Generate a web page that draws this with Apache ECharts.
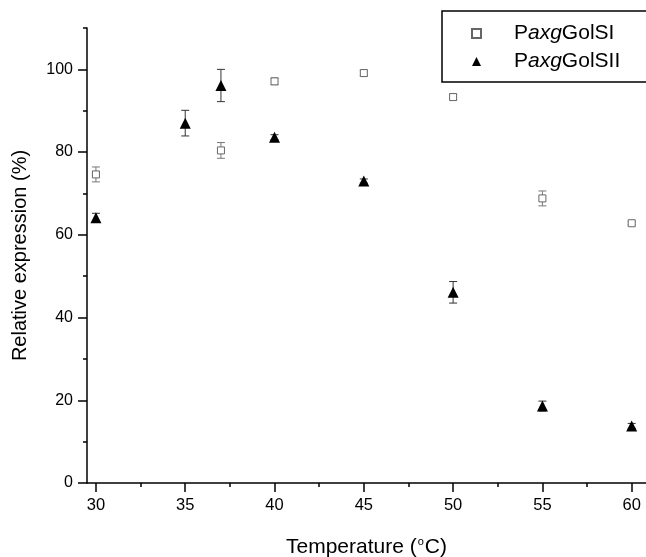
<!DOCTYPE html>
<html>
<head>
<meta charset="utf-8">
<script src="https://cdn.jsdelivr.net/npm/echarts@6/dist/echarts.min.js"></script>
<style>html,body{margin:0;padding:0;background:#fff}#c{width:646px;height:557px}</style>
</head>
<body>
<div id="c"></div>
<script>
// Data
const tempsI = [30, 37, 40, 45, 50, 55, 60];
const valuesI = [74.6, 80.4, 97.1, 99.1, 93.3, 68.8, 62.8];
const errorsI = [1.8, 1.9, 0.8, 0.7, 0.7, 1.8, 0.4];
const tempsII = [30, 35, 37, 40, 45, 50, 55, 60];
const valuesII = [64.1, 87.0, 96.1, 83.6, 73.0, 46.1, 18.6, 13.8];
const errorsII = [1.1, 3.1, 3.9, 0.6, 0.5, 2.6, 1.2, 0.6];
const xMajorTicks = [30, 35, 40, 45, 50, 55, 60];
const xMinorTicks = [32.5, 37.5, 42.5, 47.5, 52.5, 57.5];
const yMajorTicks = [0, 20, 40, 60, 80, 100];
const yMinorTicks = [10, 30, 50, 70, 90, 110];
const nameI = 'PaxgGolSI';
const nameII = 'PaxgGolSII';

const FONT = 'Liberation Sans, Arial, sans-serif';
const chart = echarts.init(document.getElementById('c'));

function errData(xs, vs, es) { return xs.map((x, i) => [x, vs[i] - es[i], vs[i] + es[i]]); }
function errRender(color) {
  return function (params, api) {
    const x = api.value(0);
    const lo = api.coord([x, api.value(1)]);
    const hi = api.coord([x, api.value(2)]);
    const w = 4;
    const st = { stroke: color, lineWidth: 1 };
    return { type: 'group', children: [
      { type: 'line', shape: { x1: hi[0], y1: hi[1], x2: lo[0], y2: lo[1] }, style: st },
      { type: 'line', shape: { x1: hi[0] - w, y1: hi[1], x2: hi[0] + w, y2: hi[1] }, style: st },
      { type: 'line', shape: { x1: lo[0] - w, y1: lo[1], x2: lo[0] + w, y2: lo[1] }, style: st }
    ]};
  };
}
const axisCommon = { lineStyle: { color: '#000', width: 1.5 } };
const xRange = { type: 'value', min: 29.5, max: 60.8, position: 'bottom', splitLine: { show: false } };
const yRange = { type: 'value', min: 0, max: 110, position: 'left', splitLine: { show: false } };

chart.setOption({
  animation: false,
  backgroundColor: '#fff',
  grid: { left: 87, right: 0, top: 28, bottom: 74, containLabel: false, outerBoundsMode: 'none' },
  legend: {
    left: 442, top: 11, orient: 'vertical',
    borderColor: '#000', borderWidth: 1.5, padding: [12, 40, 10, 29],
    itemWidth: 9, itemHeight: 9, itemGap: 7,
    data: [{ name: nameI, icon: 'rect' }, { name: nameII, icon: 'triangle' }],
    formatter: n => '{s|}' + n.replace('axg', '{i|axg}'),
    textStyle: { fontFamily: FONT, fontSize: 21, color: '#000',
      rich: { s: { width: 28 }, i: { fontStyle: 'italic', fontFamily: FONT, fontSize: 21 } } }
  },
  xAxis: [
    Object.assign({}, xRange, {
      axisLine: { onZero: false, lineStyle: axisCommon.lineStyle },
      axisTick: { customValues: xMajorTicks, length: 9, lineStyle: axisCommon.lineStyle },
      axisLabel: { customValues: xMajorTicks, margin: 14, fontSize: 16.5, color: '#000', fontFamily: FONT },
      name: 'Temperature ({sup|o}C)', nameLocation: 'middle', nameGap: 53,
      nameTextStyle: { fontSize: 21, color: '#000', fontFamily: FONT,
        rich: { sup: { fontSize: 11, verticalAlign: 'top', padding: [0, 1, 12, 1], fontFamily: FONT } } }
    }),
    Object.assign({}, xRange, {
      axisLine: { show: false, onZero: false },
      axisTick: { customValues: xMinorTicks, length: 4, lineStyle: axisCommon.lineStyle },
      axisLabel: { show: false }
    })
  ],
  yAxis: [
    Object.assign({}, yRange, {
      axisLine: { show: true, onZero: false, lineStyle: axisCommon.lineStyle },
      axisTick: { show: true, customValues: yMajorTicks, length: 9, lineStyle: axisCommon.lineStyle },
      axisLabel: { customValues: yMajorTicks, margin: 14, fontSize: 16, color: '#000', fontFamily: FONT },
      name: 'Relative expression (%)', nameLocation: 'middle', nameGap: 57,
      nameTextStyle: { fontSize: 20, color: '#000', fontFamily: FONT }
    }),
    Object.assign({}, yRange, {
      axisLine: { show: false, onZero: false },
      axisTick: { show: true, customValues: yMinorTicks, length: 4, lineStyle: axisCommon.lineStyle },
      axisLabel: { show: false }
    })
  ],
  series: [
    { type: 'custom', name: 'errI', renderItem: errRender('#777'), data: errData(tempsI, valuesI, errorsI), z: 1, silent: true },
    { type: 'custom', name: 'errII', renderItem: errRender('#333'), data: errData(tempsII, valuesII, errorsII), z: 1, silent: true },
    { type: 'scatter', name: nameI, symbol: 'rect', symbolSize: 7, z: 3,
      itemStyle: { color: '#fff', borderColor: '#666', borderWidth: 1, opacity: 1 },
      data: tempsI.map((x, i) => [x, valuesI[i]]) },
    { type: 'scatter', name: nameII, symbol: 'triangle', symbolSize: 11, z: 3,
      itemStyle: { color: '#000', opacity: 1 },
      data: tempsII.map((x, i) => [x, valuesII[i]]) }
  ]
});
</script>
</body>
</html>
